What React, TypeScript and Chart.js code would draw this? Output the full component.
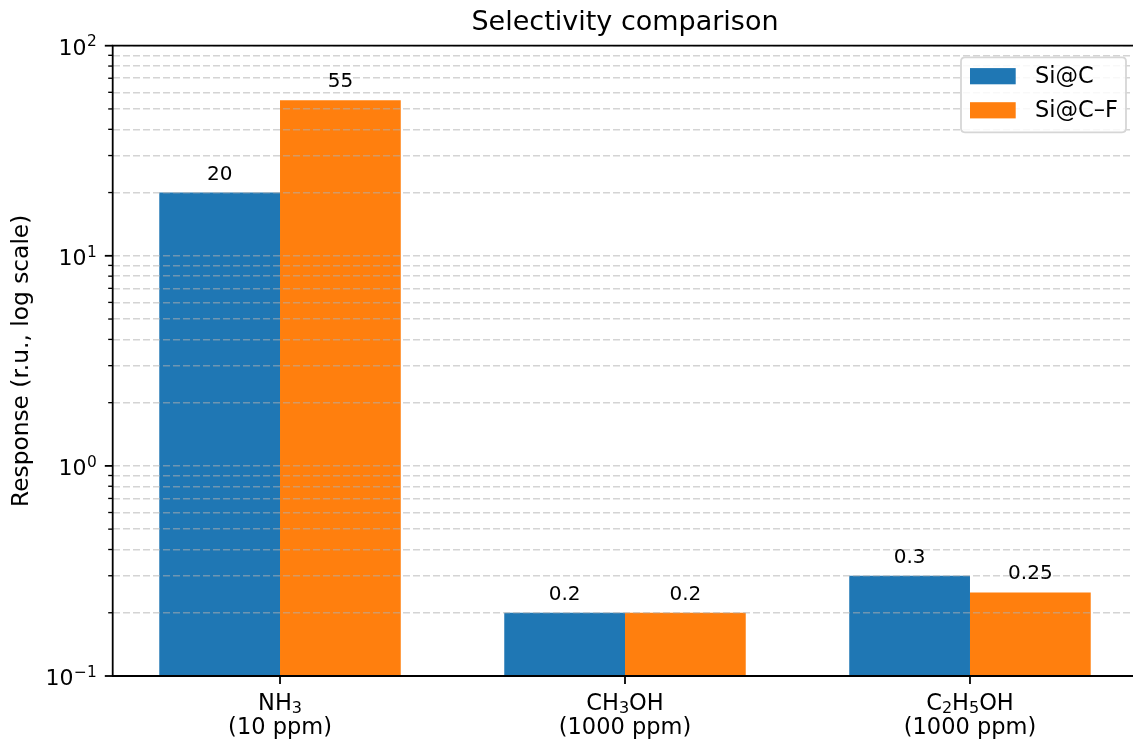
import React, { useEffect, useRef } from 'react';
import { Chart, registerables } from 'chart.js';

Chart.register(...registerables);

// ---- data ----
// "_3" marks a subscript digit
const categoryNames = ['NH_3', 'CH_3OH', 'C_2H_5OH'];
const categoryConc = ['(10 ppm)', '(1000 ppm)', '(1000 ppm)'];
const seriesNames = ['Si@C', 'Si@C–F'];
const siC = [20, 0.2, 0.3];
const siCF = [55, 0.2, 0.25];
const siCLabels = ['20', '0.2', '0.3'];
const siCFLabels = ['55', '0.2', '0.25'];
const yMajorTicks = [0.1, 1, 10, 100];
const yMajorExponents = ['−1', '0', '1', '2'];
const yMinorMultipliers = [2, 3, 4, 5, 6, 7, 8, 9];
const seriesColors = ['#1f77b4', '#ff7f0e'];
const chartTitle = 'Selectivity comparison';
const yAxisTitle = 'Response (r.u., log scale)';

const FONT = "'DejaVu Sans', 'Noto Sans', sans-serif";
const CANVAS_W = 1160;
const CANVAS_H = 742;

const yMinorTicks: number[] = [];
yMajorTicks.slice(0, -1).forEach((m) => yMinorMultipliers.forEach((k) => yMinorTicks.push(+(m * k).toPrecision(6))));
const yAllTicks = [...yMajorTicks, ...yMinorTicks].sort((a, b) => a - b);

const isMajor = (v: number) => yMajorTicks.some((m) => Math.abs(m - v) / m < 1e-6);

function splitSub(s: string): { t: string; sub: boolean }[] {
  return s
    .split(/(_\d)/)
    .filter((p) => p.length > 0)
    .map((p) => (p.startsWith('_') ? { t: p.slice(1), sub: true } : { t: p, sub: false }));
}

const decorPlugin = {
  id: 'decor',
  afterDraw(chart: any) {
    const ctx = chart.ctx as CanvasRenderingContext2D;
    const { left, right, top, bottom } = chart.chartArea;
    const yScale = chart.scales.y;
    const xScale = chart.scales.x;
    ctx.save();

    // bar value labels
    const allLabels = [siCLabels, siCFLabels];
    ctx.font = `20px ${FONT}`;
    ctx.fillStyle = '#000';
    ctx.textAlign = 'center';
    ctx.textBaseline = 'alphabetic';
    chart.data.datasets.forEach((_ds: any, di: number) => {
      const meta = chart.getDatasetMeta(di);
      meta.data.forEach((bar: any, i: number) => {
        ctx.fillText(allLabels[di][i], bar.x, bar.y - 13);
      });
    });

    // spines
    ctx.strokeStyle = '#000';
    ctx.lineWidth = 1.8;
    ctx.lineCap = 'square';
    ctx.beginPath();
    ctx.moveTo(left, top);
    ctx.lineTo(right, top);
    ctx.moveTo(left, top);
    ctx.lineTo(left, bottom);
    ctx.moveTo(left, bottom);
    ctx.lineTo(right, bottom);
    ctx.moveTo(right, top);
    ctx.lineTo(right, bottom);
    ctx.stroke();

    // y tick marks
    ctx.lineCap = 'butt';
    yAllTicks.forEach((v) => {
      const py = yScale.getPixelForValue(v);
      const major = isMajor(v);
      ctx.lineWidth = major ? 1.8 : 1.35;
      ctx.beginPath();
      ctx.moveTo(left - (major ? 7.9 : 4.5), py);
      ctx.lineTo(left, py);
      ctx.stroke();
    });

    // y tick labels: 10^n
    ctx.fillStyle = '#000';
    ctx.textAlign = 'left';
    ctx.textBaseline = 'alphabetic';
    const labelRight = left - 16.5;
    yMajorTicks.forEach((v, i) => {
      const py = yScale.getPixelForValue(v);
      ctx.font = `15.4px ${FONT}`;
      const we = ctx.measureText(yMajorExponents[i]).width;
      ctx.font = `22px ${FONT}`;
      const wb = ctx.measureText('10').width;
      const x0 = labelRight - we - wb;
      ctx.fillText('10', x0, py + 9);
      ctx.font = `15.4px ${FONT}`;
      ctx.fillText(yMajorExponents[i], x0 + wb + 0.5, py + 9 - 8.3);
    });

    // x tick marks + labels
    ctx.lineWidth = 1.8;
    categoryNames.forEach((name, i) => {
      const px = xScale.getPixelForValue(i);
      ctx.beginPath();
      ctx.moveTo(px, bottom);
      ctx.lineTo(px, bottom + 7.9);
      ctx.stroke();

      const parts = splitSub(name);
      const widths = parts.map((p) => {
        ctx.font = `${p.sub ? 16 : 22.5}px ${FONT}`;
        return ctx.measureText(p.t).width;
      });
      const total = widths.reduce((a, b) => a + b, 0);
      let x = px - total / 2;
      ctx.textAlign = 'left';
      parts.forEach((p, k) => {
        ctx.font = `${p.sub ? 16 : 22.5}px ${FONT}`;
        ctx.fillText(p.t, x, bottom + 34 + (p.sub ? 3.4 : 0));
        x += widths[k];
      });
      ctx.font = `22.5px ${FONT}`;
      ctx.textAlign = 'center';
      ctx.fillText(categoryConc[i], px, bottom + 58.3);
    });

    // title
    ctx.font = `27px ${FONT}`;
    ctx.fillStyle = '#000';
    ctx.textAlign = 'center';
    ctx.textBaseline = 'alphabetic';
    ctx.fillText(chartTitle, (left + right) / 2, 29.5);

    // legend
    const bx = right - 176.3;
    const by = top + 11.6;
    const bw = 165;
    const bh = 75;
    const r = 4;
    ctx.beginPath();
    ctx.moveTo(bx + r, by);
    ctx.lineTo(bx + bw - r, by);
    ctx.quadraticCurveTo(bx + bw, by, bx + bw, by + r);
    ctx.lineTo(bx + bw, by + bh - r);
    ctx.quadraticCurveTo(bx + bw, by + bh, bx + bw - r, by + bh);
    ctx.lineTo(bx + r, by + bh);
    ctx.quadraticCurveTo(bx, by + bh, bx, by + bh - r);
    ctx.lineTo(bx, by + r);
    ctx.quadraticCurveTo(bx, by, bx + r, by);
    ctx.closePath();
    ctx.fillStyle = 'rgba(255,255,255,0.85)';
    ctx.fill();
    ctx.strokeStyle = '#d6d6d6';
    ctx.lineWidth = 1.8;
    ctx.stroke();
    ctx.font = `22.5px ${FONT}`;
    ctx.textAlign = 'left';
    ctx.textBaseline = 'middle';
    chart.data.datasets.forEach((ds: any, di: number) => {
      const cy = by + 18.9 + di * 34.1;
      ctx.fillStyle = ds.backgroundColor;
      ctx.fillRect(bx + 9, cy - 8.1, 45.7, 16.2);
      ctx.fillStyle = '#000';
      ctx.fillText(ds.label, bx + 74, cy + 1);
    });

    ctx.restore();
  },
};

export default function App() {
  const canvasRef = useRef<HTMLCanvasElement | null>(null);

  useEffect(() => {
    const canvas = canvasRef.current;
    if (!canvas) return;
    const chart = new Chart(canvas, {
      type: 'bar',
      data: {
        datasets: [
          {
            label: seriesNames[0],
            data: siC.map((v, i) => ({ x: i, y: v })),
            backgroundColor: seriesColors[0],
            borderWidth: 0,
          },
          {
            label: seriesNames[1],
            data: siCF.map((v, i) => ({ x: i, y: v })),
            backgroundColor: seriesColors[1],
            borderWidth: 0,
          },
        ],
      },
      options: {
        responsive: false,
        animation: false,
        devicePixelRatio: 1,
        categoryPercentage: 0.7,
        barPercentage: 1.0,
        layout: { padding: { left: 0, top: 45.7, right: CANVAS_W - 1137.3, bottom: 0 } },
        plugins: {
          legend: { display: false },
          title: { display: false },
          tooltip: { enabled: false },
        },
        scales: {
          x: {
            type: 'linear',
            min: -0.485,
            max: 2.485,
            offset: false,
            afterBuildTicks: (scale: any) => {
              scale.ticks = categoryNames.map((_c, i) => ({ value: i }));
            },
            afterFit: (scale: any) => {
              scale.height = CANVAS_H - 676;
            },
            grid: { display: false, drawTicks: false },
            border: { display: false },
            ticks: { display: false, autoSkip: false, maxRotation: 0, minRotation: 0 },
          },
          y: {
            type: 'logarithmic',
            min: 0.1,
            max: 100,
            afterBuildTicks: (scale: any) => {
              scale.ticks = yAllTicks.map((v) => ({ value: v, major: isMajor(v) }));
            },
            afterFit: (scale: any) => {
              scale.width = 112.7;
            },
            grid: {
              display: true,
              z: 1,
              drawTicks: false,
              color: 'rgba(176,176,176,0.55)',
              lineWidth: 1.5,
            },
            border: { display: false, dash: [7, 3] },
            ticks: { display: false, autoSkip: false },
            title: {
              display: true,
              text: yAxisTitle,
              color: '#000',
              font: { family: FONT, size: 23.3 },
              padding: { top: 7.5, bottom: 0 },
            },
          },
        },
      } as any,
      plugins: [decorPlugin],
    });
    return () => chart.destroy();
  }, []);

  return (
    <div
      style={{
        position: 'fixed',
        left: 0,
        top: 0,
        width: 1133,
        height: 742,
        overflow: 'hidden',
        background: '#fff',
      }}
    >
      <canvas
        ref={canvasRef}
        width={CANVAS_W}
        height={CANVAS_H}
        style={{ width: CANVAS_W, height: CANVAS_H, display: 'block' }}
      />
    </div>
  );
}
